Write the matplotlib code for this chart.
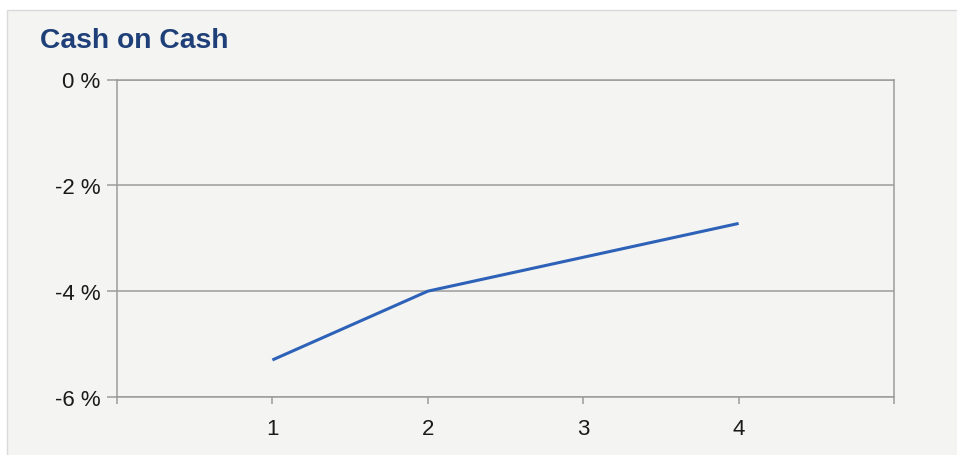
import matplotlib.pyplot as plt
from matplotlib.patches import Rectangle

# yearly cash-on-cash return (%)
years = [1, 2, 3, 4]
cash_on_cash = [-5.3, -4.0, -3.36, -2.72]
y_ticks = [-6, -4, -2, 0]

plt.rcParams['font.family'] = ['Liberation Sans', 'DejaVu Sans']

fig = plt.figure(figsize=(9.57, 4.56), dpi=100)
fig.patch.set_facecolor('white')

# light grey chart panel behind everything
panel = Rectangle((7.5 / 957, -0.01), 1.0, (456 - 10.5) / 456 + 0.01,
                  transform=fig.transFigure, facecolor='#f4f4f3',
                  edgecolor='#dadada', linewidth=1.0, zorder=-1)
fig.patches.append(panel)

ax = fig.add_axes([117 / 957, 1 - 398 / 456, 777 / 957, 317.5 / 456])
ax.set_facecolor('#f4f4f3')

ax.plot(years, cash_on_cash, color='#2d62b8', linewidth=2.2,
        solid_capstyle='butt', zorder=3)

ax.set_xlim(0, 5)
ax.set_ylim(-6, 0)
ax.set_xticks([0] + years + [5])
ax.set_xticklabels([''] + [str(y) for y in years] + [''])
ax.set_yticks(y_ticks)
ax.set_yticklabels([f'{v} %' for v in y_ticks])

ax.grid(axis='y', color='#9c9c9c', linewidth=1.1)
ax.set_axisbelow(True)
for s in ax.spines.values():
    s.set_color('#9c9c9c')
    s.set_linewidth(1.1)

ax.tick_params(axis='y', length=7, width=1.1, color='#9c9c9c', pad=5,
               labelsize=16, labelcolor='#1a1a1a')
ax.tick_params(axis='x', length=5, width=1.1, color='#9c9c9c', pad=10,
               labelsize=16, labelcolor='#1a1a1a')

fig.text(40 / 957, 1 - 41 / 456, 'Cash on Cash', fontsize=20.3,
         fontweight='bold', color='#1f3f78', va='center', ha='left')

fig.savefig('out.png', dpi=100, facecolor=fig.get_facecolor())
